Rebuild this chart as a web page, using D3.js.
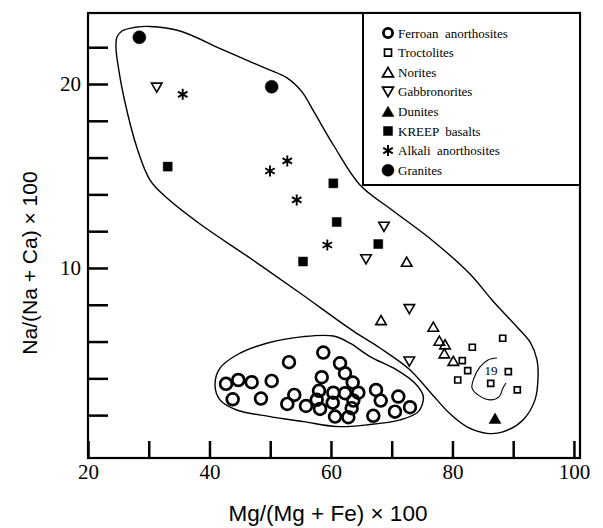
<!DOCTYPE html>
<html><head><meta charset="utf-8">
<script src="https://cdn.jsdelivr.net/npm/d3@7"></script>
<style>body{margin:0;background:#fff}</style>
</head><body>
<svg id="chart" width="603" height="528"></svg>
<script>
// ---- data (x = Mg/(Mg+Fe)*100, y = Na/(Na+Ca)*100) ----
const ferroan = [[58.74,5.40],[53.09,4.88],[61.49,4.82],[42.72,3.70],[44.74,3.91],[46.95,3.79],[50.24,3.86],[58.48,4.06],[62.31,4.28],[63.58,3.77],[43.82,2.86],[48.48,2.90],[53.96,3.10],[52.81,2.61],[55.89,2.50],[58.03,3.32],[57.65,2.83],[58.20,2.34],[60.39,3.22],[62.31,3.19],[64.50,3.22],[67.42,3.37],[68.19,2.79],[71.09,3.01],[73.01,2.43],[70.54,2.19],[66.97,1.96],[63.41,2.38],[60.67,1.92],[62.86,1.89],[60.29,2.68],[63.68,2.79]];
const troctolites = [[81.62,4.96],[83.27,5.69],[88.27,6.18],[82.51,4.42],[80.87,3.91],[89.20,4.36],[86.30,3.73],[90.68,3.37]];
const norites = [[72.47,10.34],[68.24,7.17],[76.85,6.81],[77.84,6.05],[78.78,5.85],[78.66,5.36],[80.14,4.95]];
const gabbronorites = [[31.31,19.80],[68.73,12.24],[65.77,10.47],[72.90,7.76],[72.90,4.91]];
const dunites = [[87.01,1.83]];
const kreep = [[33.12,15.51],[60.39,14.60],[60.94,12.50],[67.79,11.30],[55.40,10.35]];
const alkali = [[35.59,19.44],[49.96,15.27],[52.81,15.82],[54.36,13.70],[59.40,11.25]];
const granites = [[28.45,22.54],[50.24,19.85]];

// field outlines
const bigField = [[24.61,21.96],[24.77,22.55],[25.60,22.88],[27.57,23.07],[30.21,23.13],[35.15,22.88],[42.23,21.85],[49.47,20.82],[52.76,20.33],[55.23,19.57],[57.21,18.48],[60.50,16.63],[64.78,14.51],[70.05,13.15],[76.80,11.47],[82.89,9.67],[86.51,8.26],[90.63,6.79],[92.77,5.98],[93.92,5.00],[94.09,4.02],[93.59,2.83],[91.62,1.74],[88.32,1.09],[85.69,1.01],[82.40,1.36],[79.60,2.07],[76.31,3.26],[72.85,4.51],[68.07,5.65],[63.63,6.58],[54.90,8.64],[46.67,10.54],[38.44,12.39],[33.01,13.80],[30.21,14.78],[28.07,16.52],[25.93,19.24],[24.94,21.03]];
const fanField = [[40.91,3.64],[41.73,4.55],[44.48,5.27],[49.42,5.91],[55.45,6.27],[60.39,6.30],[63.13,5.91],[66.43,5.18],[70.82,4.46],[73.84,3.73],[75.20,3.01],[74.38,2.19],[71.37,1.74],[65.88,1.47],[60.94,1.38],[55.45,1.65],[49.96,1.92],[44.48,2.28],[41.73,2.83]];
const field19 = [[87.34,5.11],[85.85,5.00],[84.54,4.62],[83.55,4.02],[83.22,3.48],[84.21,3.10],[86.18,2.83],[87.67,2.99],[88.32,3.48],[88.82,3.75]];
const label19 = {text: "19", x: 86.35, y: 4.42};

const xTicks = [20,30,40,50,60,70,80,90,100];
const xTickLabels = [20,40,60,80,100];
const yTicks = [2,4,6,8,10,12,14,16,18,20,22];
const yTickLabels = [10,20];
const legendNames = ["Ferroan  anorthosites","Troctolites","Norites","Gabbronorites","Dunites","KREEP  basalts","Alkali  anorthosites","Granites"];
const xTitle = "Mg/(Mg + Fe) \u00d7 100";
const yTitle = "Na/(Na + Ca) \u00d7 100";

// ---- chart ----
const svg = d3.select("#chart");
const x = d3.scaleLinear().domain([20, 101]).range([88, 580]);
const y = d3.scaleLinear().domain([-0.33, 23.86]).range([458, 13]);
const serif = "'Liberation Serif','Times New Roman',serif";
const sans = "'Liberation Sans',Arial,sans-serif";

// x axis
const gx = svg.append("g").attr("transform", `translate(0,${y.range()[0]})`)
  .call(d3.axisBottom(x).tickValues(xTicks).tickSizeInner(-17).tickSizeOuter(0).tickPadding(6)
    .tickFormat(d => xTickLabels.includes(d) ? d : ""));
gx.select(".domain").remove();
gx.selectAll(".tick line").attr("stroke", "#000").attr("stroke-width", 2.5);
gx.selectAll(".tick text").attr("font-family", serif).attr("font-size", 21).attr("fill", "#000");

// y axis
const gy = svg.append("g").attr("transform", `translate(${x.range()[0]},0)`)
  .call(d3.axisLeft(y).tickValues(yTicks).tickSizeInner(-20).tickSizeOuter(0).tickPadding(7)
    .tickFormat(d => yTickLabels.includes(d) ? d : ""));
gy.select(".domain").remove();
gy.selectAll(".tick line").attr("stroke", "#000").attr("stroke-width", 2.5);
gy.selectAll(".tick text").attr("font-family", serif).attr("font-size", 21).attr("fill", "#000");

// frame
svg.append("rect").attr("x", x.range()[0]).attr("y", y.range()[1])
  .attr("width", x.range()[1] - x.range()[0]).attr("height", y.range()[0] - y.range()[1])
  .attr("fill", "none").attr("stroke", "#000").attr("stroke-width", 2.2);

// titles
svg.append("text").attr("x", 328).attr("y", 521).attr("text-anchor", "middle")
  .attr("font-family", sans).attr("font-size", 22.5).attr("fill", "#000").text(xTitle);
svg.append("text").attr("transform", "translate(37,263) rotate(-90)").attr("text-anchor", "middle")
  .attr("font-family", sans).attr("font-size", 21).attr("fill", "#000").text(yTitle);

// fields
const closedLine = d3.line().x(d => x(d[0])).y(d => y(d[1])).curve(d3.curveCatmullRomClosed.alpha(0.5));
const openLine = d3.line().x(d => x(d[0])).y(d => y(d[1])).curve(d3.curveCatmullRom.alpha(0.5));
svg.append("path").attr("d", closedLine(bigField)).attr("fill", "none").attr("stroke", "#000").attr("stroke-width", 1.4);
svg.append("path").attr("d", closedLine(fanField)).attr("fill", "none").attr("stroke", "#000").attr("stroke-width", 1.4);
svg.append("path").attr("d", openLine(field19)).attr("fill", "none").attr("stroke", "#000").attr("stroke-width", 1.1);
svg.append("text").attr("x", x(label19.x)).attr("y", y(label19.y)).attr("dy", "0.35em")
  .attr("text-anchor", "middle").attr("font-family", serif).attr("font-size", 13).attr("fill", "#000").text(label19.text);

// symbol shapes
function triUp(w) { const h = w * Math.sqrt(3) / 2; return `M0,${-h/2}L${w/2},${h/2}L${-w/2},${h/2}Z`; }
function triDown(w) { const h = w * Math.sqrt(3) / 2; return `M0,${h/2}L${w/2},${-h/2}L${-w/2},${-h/2}Z`; }
function square(s) { return `M${-s/2},${-s/2}h${s}v${s}h${-s}Z`; }
function circle(r) { return `M${r},0A${r},${r} 0 1,1 ${-r},0A${r},${r} 0 1,1 ${r},0Z`; }
function asterisk(r) {
  let p = "";
  for (let k = 0; k < 3; k++) {
    const a = Math.PI / 2 + k * Math.PI / 3;
    p += `M${r*Math.cos(a)},${r*Math.sin(a)}L${-r*Math.cos(a)},${-r*Math.sin(a)}`;
  }
  return p;
}
const styles = [
  {data: ferroan, d: circle(5.9), fill: "none", sw: 2.7, ld: circle(4.6), lsw: 2.8},
  {data: troctolites, d: square(6), fill: "none", sw: 1.7, ld: square(7), lsw: 1.7},
  {data: norites, d: triUp(10.5), fill: "none", sw: 1.6, ld: triUp(11), lsw: 1.7},
  {data: gabbronorites, d: triDown(10.5), fill: "none", sw: 1.6, ld: triDown(11), lsw: 1.7},
  {data: dunites, d: triUp(12), fill: "#000", sw: 0.5, ld: triUp(12), lsw: 0.5},
  {data: kreep, d: square(9), fill: "#000", sw: 0.5, ld: square(9), lsw: 0.5},
  {data: alkali, d: asterisk(5.5), fill: "none", sw: 1.9, ld: asterisk(5.5), lsw: 1.9},
  {data: granites, d: circle(6.5), fill: "#000", sw: 0.5, ld: circle(6), lsw: 0.5}
];
styles.forEach(s => {
  svg.append("g").selectAll("path").data(s.data).join("path")
    .attr("transform", d => `translate(${x(d[0])},${y(d[1])})`)
    .attr("d", s.d).attr("fill", s.fill).attr("stroke", "#000").attr("stroke-width", s.sw);
});

// legend
const lg = svg.append("g");
lg.append("rect").attr("x", 363).attr("y", y.range()[1]).attr("width", x.range()[1] - 363).attr("height", 172)
  .attr("fill", "#fff").attr("stroke", "#000").attr("stroke-width", 2);
legendNames.forEach((name, i) => {
  const ly = 33 + i * 19.6;
  lg.append("path").attr("transform", `translate(388,${ly})`).attr("d", styles[i].ld)
    .attr("fill", styles[i].fill).attr("stroke", "#000").attr("stroke-width", styles[i].lsw);
  lg.append("text").attr("x", 398).attr("y", ly).attr("dy", "0.35em")
    .attr("font-family", serif).attr("font-size", 13).attr("fill", "#000").style("white-space", "pre").text(name);
});
</script>
</body></html>
